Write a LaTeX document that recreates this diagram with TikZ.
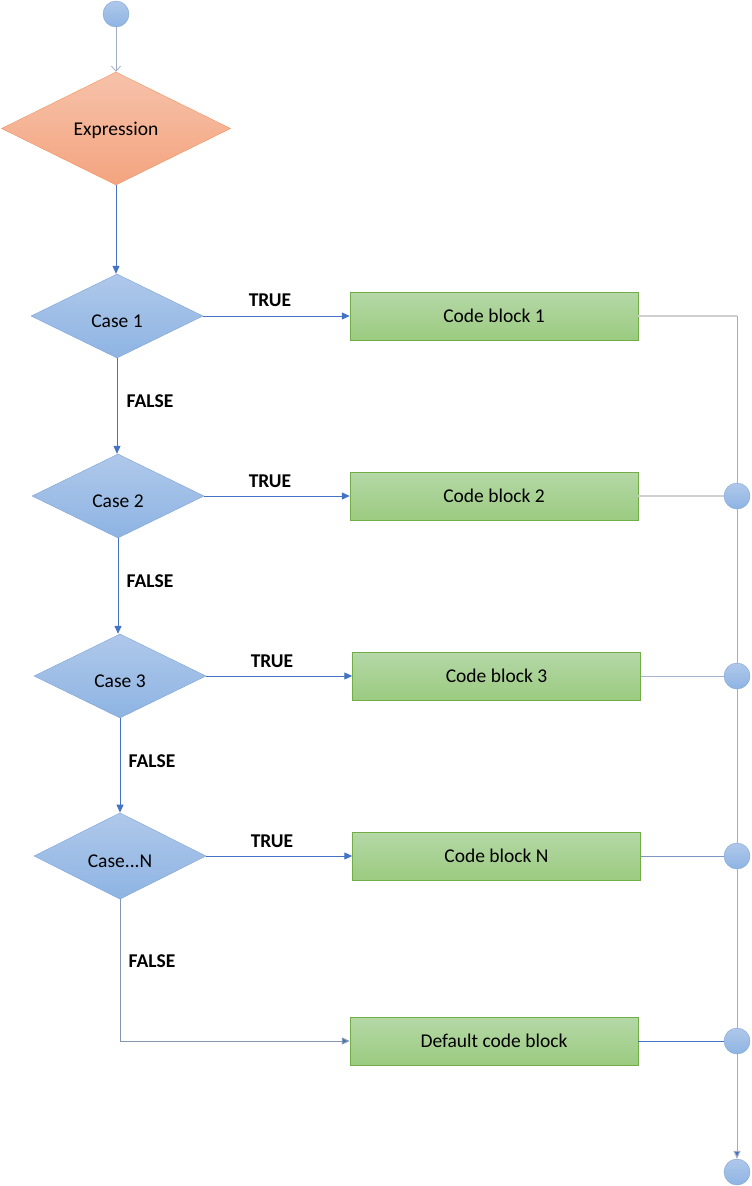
\documentclass[tikz,border=0pt]{standalone}
\usepackage{fontspec}
\setmainfont{Carlito}
\usetikzlibrary{shapes.geometric,arrows.meta}
\definecolor{cblue}{HTML}{4472C4}
\definecolor{vgray}{HTML}{A3ADC2}
\definecolor{lgray}{HTML}{D0D0D0}
\definecolor{bdraw}{HTML}{7EA3D6}
\definecolor{btop}{HTML}{AFC8EA}
\definecolor{bbot}{HTML}{8EB4E3}
\definecolor{gdraw}{HTML}{70AD47}
\definecolor{gtop}{HTML}{B5D8A7}
\definecolor{gbot}{HTML}{9BCB80}
\definecolor{odraw}{HTML}{F0935F}
\definecolor{otop}{HTML}{F6C2AA}
\definecolor{obot}{HTML}{F4A47F}
\tikzset{
  txt/.style={font=\fontsize{19.5}{23}\selectfont},
  lbl/.style={font=\fontsize{19.5}{23}\selectfont\bfseries},
  bdia/.style={diamond, draw=bdraw, inner sep=0pt, minimum width=172, minimum height=84, top color=btop, bottom color=bbot, txt, text height=22pt, text depth=0pt},
  gbox/.style={rectangle, draw=gdraw, inner sep=0pt, minimum width=288, minimum height=48, top color=gtop, bottom color=gbot, txt},
  dot/.style={circle, inner sep=0pt, minimum size=26, draw=bdraw, top color=btop, bottom color=bbot},
  arr/.style={draw=cblue, line width=1pt, -{Triangle[length=8,width=7]}},
}
\begin{document}
\begin{tikzpicture}[x=1pt,y=-1pt]
\useasboundingbox (0,0) rectangle (752,1186);
% nodes
\node[dot] (s) at (116,14) {};
\node[diamond, draw=odraw, inner sep=0pt, minimum width=229, minimum height=113, top color=otop, bottom color=obot, txt, text height=13pt, text depth=0pt] (ex) at (116,128.5) {Expression};
\node[bdia] (c1) at (117,316) {Case 1};
\node[bdia] (c2) at (118,496) {Case 2};
\node[bdia] (c3) at (120,676) {Case 3};
\node[bdia] (cn) at (120,856) {Case...N};
\node[gbox] (b1) at (494,316) {Code block 1};
\node[gbox] (b2) at (494,496) {Code block 2};
\node[gbox] (b3) at (496.5,676) {Code block 3};
\node[gbox] (bn) at (496.5,856) {Code block N};
\node[gbox] (bd) at (494,1041) {Default code block};
\node[dot] (j2) at (737,496) {};
\node[dot] (j3) at (737,676) {};
\node[dot] (jn) at (737,856) {};
\node[dot] (jd) at (737,1041) {};
\node[dot] (e) at (737,1172) {};
\coordinate (k1) at (737,316);
\coordinate (kd) at (120,1041);
% labels
\node[lbl] (t1) at (270,300) {TRUE};
\node[lbl] (t2) at (270,481) {TRUE};
\node[lbl] (t3) at (272,661) {TRUE};
\node[lbl] (t4) at (272,841) {TRUE};
\node[lbl] (f1) at (150,401) {FALSE};
\node[lbl] (f2) at (150,581) {FALSE};
\node[lbl] (f3) at (152,761) {FALSE};
\node[lbl] (f4) at (152,961) {FALSE};
% connectors
\draw[draw=vgray, line width=0.8pt, -{Straight Barb[length=5,width=9]}] (s) -- (s |- ex.north);
\draw[arr] (ex.south) -- (ex.south |- c1.north);
\draw[arr] (c1.south) -- (c1.south |- c2.north);
\draw[arr] (c2.south) -- (c2.south |- c3.north);
\draw[arr] (c3.south) -- (c3.south |- cn.north);
\draw[arr] (c1.east) -- (b1.west);
\draw[arr] (c2.east) -- (b2.west);
\draw[arr] (c3.east) -- (b3.west);
\draw[arr] (cn.east) -- (bn.west);
\draw[draw={rgb,255:red,132;green,151;blue,176}, line width=1pt, -{Triangle[length=8,width=7,fill=cblue]}] (cn.south) -- (kd) -- (bd.west);
\draw[draw=lgray, line width=1.2pt] (b1.east) -- (k1);
\draw[draw=lgray, line width=1.2pt] (b2.east) -- (j2.west);
\draw[draw={rgb,255:red,165;green,180;blue,207}, line width=1pt] (b3.east) -- (j3.west);
\draw[draw={rgb,255:red,127;green,150;blue,196}, line width=1pt] (bn.east) -- (jn.west);
\draw[draw=cblue, line width=1pt] (bd.east) -- (jd.west);
\draw[draw=vgray, line width=1pt] (k1) -- (j2.north);
\draw[draw=vgray, line width=1pt] (j2.south) -- (j3.north);
\draw[draw=vgray, line width=1pt] (j3.south) -- (jn.north);
\draw[draw=vgray, line width=1pt] (jn.south) -- (jd.north);
\draw[draw=vgray, line width=1pt, -{Triangle[length=8,width=7,fill=cblue]}] (jd.south) -- (e.north);
\end{tikzpicture}
\end{document}
